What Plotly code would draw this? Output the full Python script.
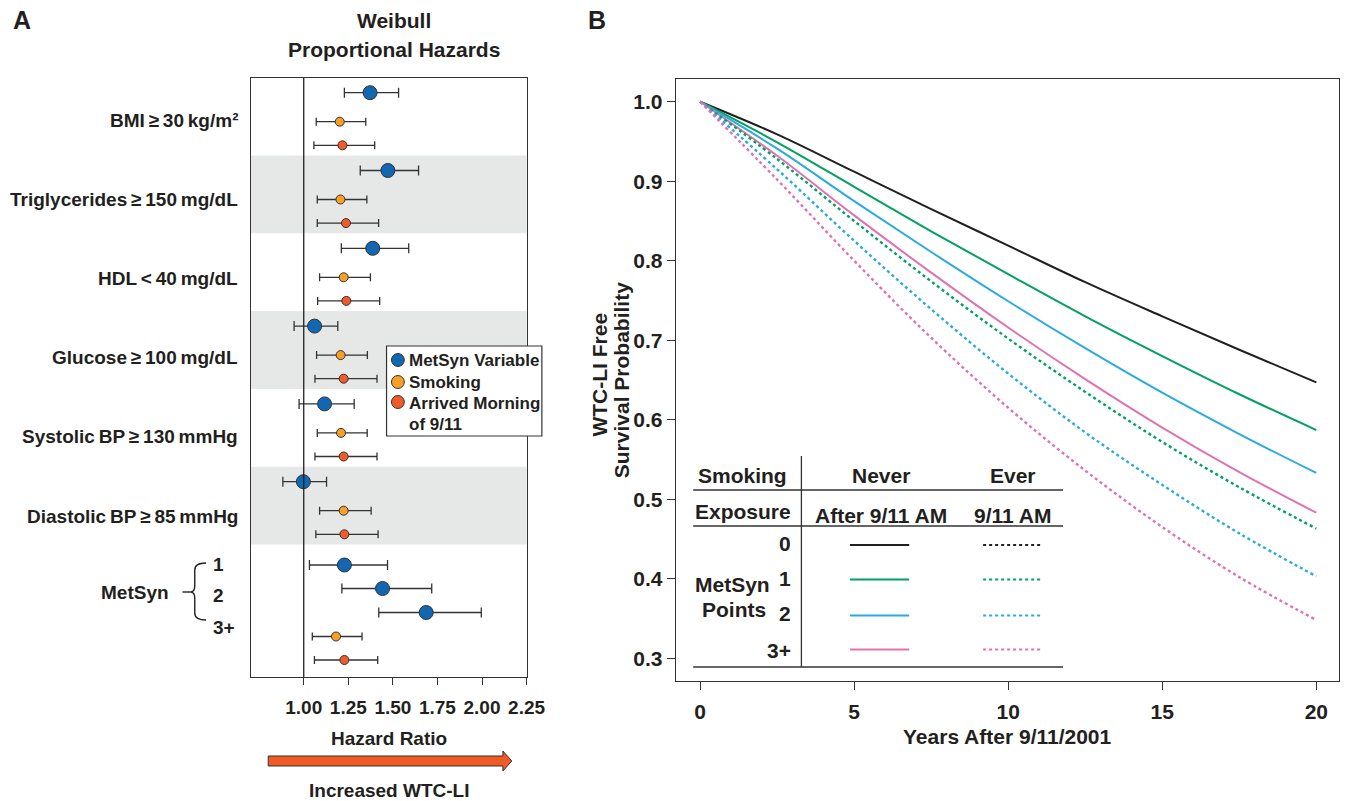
import plotly.graph_objects as go

W, H = 1367, 801
def px(x): return x / W
def py(y): return 1 - y / H

FONT = "Liberation Sans, Arial, Helvetica, sans-serif"
TXT = "#231f20"
EDGE = "#333333"

# ---------------- Panel A data (hazard ratios, 95% CI) ----------------
variables = ["BMI ≥ 30 kg/m²", "Triglycerides ≥ 150 mg/dL", "HDL < 40 mg/dL",
             "Glucose ≥ 100 mg/dL", "Systolic BP ≥ 130 mmHg", "Diastolic BP ≥ 85 mmHg"]
metsyn_points = ["1", "2", "3+"]

metsyn_hr = [1.372, 1.472, 1.387, 1.061, 1.117, 0.998]
metsyn_lo = [1.228, 1.317, 1.211, 0.946, 0.974, 0.883]
metsyn_hi = [1.532, 1.644, 1.589, 1.191, 1.283, 1.128]
points_hr = [1.228, 1.442, 1.687]
points_lo = [1.032, 1.214, 1.421]
points_hi = [1.470, 1.718, 1.996]
smoking_hr = [1.202, 1.206, 1.224, 1.207, 1.209, 1.224, 1.181]
smoking_lo = [1.070, 1.076, 1.089, 1.072, 1.076, 1.089, 1.048]
smoking_hi = [1.348, 1.354, 1.374, 1.357, 1.356, 1.378, 1.327]
arrived_hr = [1.217, 1.237, 1.239, 1.224, 1.224, 1.228, 1.228]
arrived_lo = [1.057, 1.076, 1.078, 1.063, 1.063, 1.068, 1.060]
arrived_hi = [1.398, 1.420, 1.426, 1.411, 1.411, 1.417, 1.415]
hr_ticks = [1.00, 1.25, 1.50, 1.75, 2.00, 2.25]

# ---------------- Panel B data (survival probability) ----------------
years = [0, 2.5, 5, 7.5, 10, 12.5, 15, 17.5, 20]
never_0 = [1.0, 0.959, 0.912, 0.865, 0.819, 0.773, 0.730, 0.688, 0.647]
never_1 = [1.0, 0.949, 0.893, 0.837, 0.783, 0.730, 0.680, 0.632, 0.587]
never_2 = [1.0, 0.941, 0.875, 0.811, 0.749, 0.690, 0.634, 0.582, 0.533]
never_3 = [1.0, 0.932, 0.857, 0.785, 0.716, 0.651, 0.590, 0.534, 0.483]
ever_1 = [1.0, 0.928, 0.850, 0.774, 0.702, 0.635, 0.572, 0.515, 0.463]
ever_2 = [1.0, 0.915, 0.825, 0.739, 0.658, 0.584, 0.518, 0.457, 0.403]
ever_3 = [1.0, 0.902, 0.800, 0.703, 0.615, 0.536, 0.465, 0.402, 0.348]
metsyn_levels = ["0", "1", "2", "3+"]
level_colors = ["#231f20", "#00a261", "#29abe2", "#e072b0"]

BLUE, ORANGE, RED = "#1167b1", "#f7a025", "#f15a29"

fig = go.Figure()

# ---- panel A row layout (offset units = pixels below box top) ----
STEP = 77.8
ms_y = [STEP * g + 15 for g in range(6)]
sm_y = [STEP * g + 44 for g in range(6)]
ar_y = [STEP * g + 67.6 for g in range(6)]
top6 = STEP * 6
pt_y = [top6 + 20.5, top6 + 44, top6 + 68]
sm_y.append(top6 + 92)
ar_y.append(top6 + 115.5)

def err(hr, lo, hi, w=5):
    return dict(type="data", symmetric=False,
                array=[h - m for m, h in zip(hr, hi)],
                arrayminus=[m - l for m, l in zip(hr, lo)],
                color=EDGE, thickness=1.3, width=w)

blue_hr = metsyn_hr + points_hr
blue_lo = metsyn_lo + points_lo
blue_hi = metsyn_hi + points_hi
fig.add_trace(go.Scatter(x=smoking_hr, y=sm_y, mode="markers", xaxis="x", yaxis="y",
                         marker=dict(size=9, color=ORANGE, line=dict(color=EDGE, width=1)),
                         error_x=err(smoking_hr, smoking_lo, smoking_hi, 4),
                         showlegend=False, hoverinfo="x"))
fig.add_trace(go.Scatter(x=arrived_hr, y=ar_y, mode="markers", xaxis="x", yaxis="y",
                         marker=dict(size=9, color=RED, line=dict(color=EDGE, width=1)),
                         error_x=err(arrived_hr, arrived_lo, arrived_hi, 4),
                         showlegend=False, hoverinfo="x"))
fig.add_trace(go.Scatter(x=blue_hr, y=ms_y + pt_y, mode="markers", xaxis="x", yaxis="y",
                         marker=dict(size=14, color=BLUE, line=dict(color=EDGE, width=1)),
                         error_x=err(blue_hr, blue_lo, blue_hi, 5),
                         showlegend=False, hoverinfo="x"))

# ---- panel B curves ----
for vals, col in zip([never_0, never_1, never_2, never_3], level_colors):
    fig.add_trace(go.Scatter(x=years, y=vals, mode="lines", xaxis="x2", yaxis="y2",
                             line=dict(color=col, width=2, shape="spline"),
                             showlegend=False))
for vals, col in zip([ever_1, ever_2, ever_3], level_colors[1:]):
    fig.add_trace(go.Scatter(x=years, y=vals, mode="lines", xaxis="x2", yaxis="y2",
                             line=dict(color=col, width=2.4, dash="dot", shape="spline"),
                             showlegend=False))

shapes = []
ann = []

def A(text, x, y, size=19, xanchor="center", yanchor="middle", angle=0):
    ann.append(dict(text=text, x=px(x), y=py(y), xref="paper", yref="paper",
                    showarrow=False, xanchor=xanchor, yanchor=yanchor, textangle=angle,
                    font=dict(family=FONT, size=size, color=TXT, weight="bold")))

def line(x0, y0, x1, y1, color=EDGE, width=1.3, dash=None):
    d = dict(color=color, width=width)
    if dash:
        d["dash"] = dash
    shapes.append(dict(type="line", xref="paper", yref="paper",
                       x0=px(x0), y0=py(y0), x1=px(x1), y1=py(y1), line=d))

def path(cmds):
    out = []
    for c in cmds:
        if isinstance(c, str):
            out.append(c)
        else:
            out.append(f"{px(c[0]):.5f},{py(c[1]):.5f}")
    return " ".join(out)

# bands
for g in (1, 3, 5):
    shapes.append(dict(type="rect", xref="x domain", yref="y", x0=0, x1=1,
                       y0=STEP * g, y1=STEP * (g + 1), fillcolor="#e6e7e7",
                       line=dict(width=0), layer="below"))
# reference line HR = 1
shapes.append(dict(type="line", xref="x", yref="y domain", x0=1, x1=1, y0=0, y1=1,
                   line=dict(color=TXT, width=1.3)))

# panel A texts
A("A", 22, 20, size=25)
A("B", 605, 20, size=25)
A("Weibull", 400, 21, size=21)
A("Proportional Hazards", 400, 49, size=21)
for g, lab in enumerate(variables):
    A(lab.replace(" ", "\u2009") if ("≥" in lab or "<" in lab) else lab,
      243, 120 + 79.2 * g, xanchor="right")
A("MetSyn", 173, 592, xanchor="right")
for lab, yy in zip(metsyn_points, [564, 595, 627]):
    A(lab, 214, yy, xanchor="left")
# brace
shapes.append(dict(type="path", xref="paper", yref="paper", line=dict(color=TXT, width=1.4),
                   path=path(["M", (209, 563), "Q", (197.5, 563), (197.5, 570), "L", (197.5, 586),
                              "Q", (197.5, 592), (193, 592), "Q", (197.5, 592), (197.5, 598),
                              "L", (197.5, 613), "Q", (197.5, 620), (209, 620)])))
line(185, 592, 193, 592, color=TXT, width=1.4)

A("Hazard Ratio", 394, 738)
shapes.append(dict(type="path", xref="paper", yref="paper", fillcolor="#f15a24",
                   line=dict(color=EDGE, width=1),
                   path=path(["M", (272, 756), "L", (510, 756), "L", (510, 751), "L", (519, 761),
                              "L", (510, 771), "L", (510, 766), "L", (272, 766), "Z"])))
A("Increased WTC-LI", 394, 790)

# panel A legend
shapes.append(dict(type="rect", xref="paper", yref="paper", x0=px(392), x1=px(549.5),
                   y0=py(346), y1=py(436), fillcolor="white", line=dict(color=EDGE, width=1.2)))
for col, yy in zip([BLUE, ORANGE, RED], [360, 382, 402]):
    shapes.append(dict(type="circle", xref="paper", yref="paper",
                       x0=px(397), x1=px(410), y0=py(yy - 6.5), y1=py(yy + 6.5),
                       fillcolor=col, line=dict(color=EDGE, width=1)))
for t, yy in zip(["MetSyn Variable", "Smoking", "Arrived Morning", "of 9/11"], [360, 382, 403, 425]):
    A(t, 413, yy, size=17, xanchor="left")

# panel B titles
A("WTC-LI Free", 607, 375, size=21, angle=-90)
A("Survival Probability", 630, 380, size=21, angle=-90)
A("Years After 9/11/2001", 1022, 736, size=21)

# panel B legend table
line(812.7, 456, 812.7, 667)
for yy in (490, 526, 667):
    line(703, yy, 1078, yy)
A("Smoking", 753, 475, size=21)
A("Never", 893, 475, size=21)
A("Ever", 1027, 475, size=21)
A("Exposure", 753, 511, size=21)
A("After 9/11 AM", 893, 515, size=21)
A("9/11 AM", 1027, 515, size=21)
for lab, yy in zip(metsyn_levels, [543, 578, 613, 650]):
    A(lab, 804, yy, size=21, xanchor="right")
A("MetSyn", 743, 584, size=21)
A("Points", 744, 609, size=21)
for col, yy in zip(level_colors, [545, 579.5, 615.5, 649.5]):
    line(862, yy, 922, yy, color=col, width=2)
    line(997, yy, 1057, yy, color=col, width=2.2, dash="dot")

axis_common = dict(showgrid=False, zeroline=False, showline=True, mirror=True,
                   linecolor=EDGE, linewidth=1.3, ticks="outside", tickcolor=EDGE,
                   tickwidth=1.2, tickfont=dict(family=FONT, size=19, color=TXT, weight="bold"))

fig.update_layout(
    height=H, autosize=True, margin=dict(l=0, r=0, t=0, b=0, pad=0),
    paper_bgcolor="white", plot_bgcolor="white", showlegend=False,
    xaxis=dict(axis_common, domain=[px(254.5), px(534)], range=[0.704, 2.25],
               tickvals=hr_ticks, ticktext=[f"{v:.2f}" for v in hr_ticks],
               ticklen=7, ticklabelstandoff=6),
    yaxis=dict(axis_common, domain=[py(677), py(77.7)], range=[599.3, 0],
               showticklabels=False, ticks=""),
    xaxis2=dict(axis_common, domain=[px(685.3), px(1358)], range=[-0.79, 20.74],
                tickvals=[0, 5, 10, 15, 20], ticklen=8, anchor="y2",
                tickfont=dict(family=FONT, size=21, color=TXT, weight="bold"),
                ticklabelstandoff=4),
    yaxis2=dict(axis_common, domain=[py(681), py(79)], range=[0.2713, 1.0286],
                tickvals=[0.3, 0.4, 0.5, 0.6, 0.7, 0.8, 0.9, 1.0],
                ticktext=["0.3", "0.4", "0.5", "0.6", "0.7", "0.8", "0.9", "1.0"],
                ticklen=8, anchor="x2",
                tickfont=dict(family=FONT, size=21, color=TXT, weight="bold")),
    shapes=shapes, annotations=ann,
)

fig.write_html("out.html", default_width="100%", default_height="801px",
               config={"displayModeBar": False, "responsive": True},
               post_script=("document.documentElement.style.margin='0px';"
                            "document.documentElement.style.overflow='hidden';"
                            "document.body.style.margin='0px';"
                            "document.body.style.overflow='hidden';"
                            "window.dispatchEvent(new Event('resize'));"))
